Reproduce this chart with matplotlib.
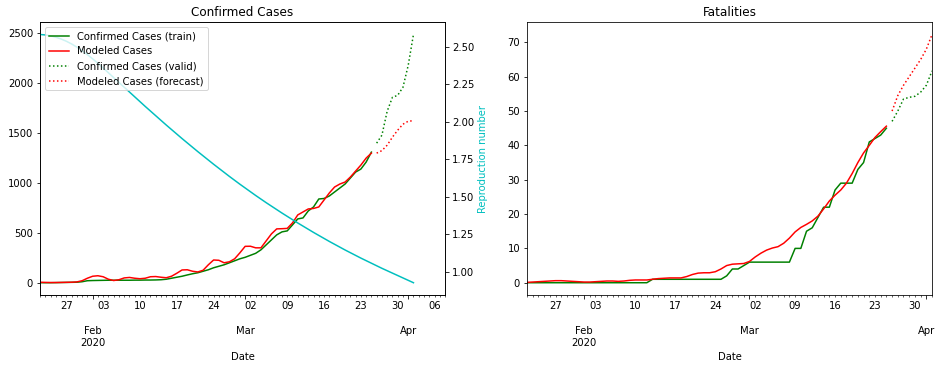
import numpy as np
import pandas as pd
import matplotlib
matplotlib.use("Agg")
import matplotlib.pyplot as plt
import matplotlib.dates as mdates
from matplotlib.ticker import FuncFormatter

# dates: train 22 Jan - 25 Mar, forecast 26 Mar - 2 Apr
train_dates = pd.date_range("2020-01-22", "2020-03-25")
fc_dates = pd.date_range("2020-03-26", "2020-04-02")
all_dates = pd.date_range("2020-01-22", "2020-04-02")

confirmed_train = [0, 0, 0, 1, 2, 3, 4, 5, 10, 20, 22, 23, 24, 25, 25, 25,
                   25, 25, 26, 26, 27, 27, 28, 30, 35, 45, 55, 65, 78, 90, 100, 115,
                   130, 150, 165, 180, 200, 220, 240, 255, 275, 295, 330, 380, 430, 480,
                   510, 520, 580, 640, 650, 720, 760, 840, 845, 870, 910, 950, 990, 1050,
                   1110, 1140, 1210, 1310]
modeled_cases = [5, 3, 2, 2, 3, 4, 5, 8, 20, 45, 65, 70, 60, 35, 22, 30,
                 48, 53, 45, 40, 45, 60, 62, 55, 50, 65, 95, 128, 130, 115, 108, 125,
                 180, 228, 225, 200, 210, 240, 300, 365, 366, 350, 350, 420, 490, 540,
                 542, 545, 600, 680, 710, 740, 745, 760, 830, 900, 960, 990, 1010, 1060,
                 1120, 1180, 1250, 1300]
confirmed_valid = [1400, 1480, 1720, 1860, 1880, 1960, 2180, 2490]
modeled_cases_fc = [1300, 1325, 1380, 1460, 1530, 1590, 1620, 1625]

repro_number = [2.580, 2.577, 2.571, 2.562, 2.550, 2.535, 2.517, 2.496, 2.472, 2.446,
                2.418, 2.388, 2.357, 2.325, 2.293, 2.261, 2.229, 2.197, 2.165, 2.133,
                2.101, 2.070, 2.039, 2.008, 1.977, 1.947, 1.917, 1.887, 1.858, 1.829,
                1.800, 1.772, 1.744, 1.716, 1.689, 1.662, 1.635, 1.609, 1.583, 1.558,
                1.533, 1.508, 1.484, 1.460, 1.437, 1.414, 1.391, 1.369, 1.347, 1.325,
                1.304, 1.283, 1.262, 1.242, 1.222, 1.202, 1.183, 1.164, 1.145, 1.127,
                1.109, 1.091, 1.074, 1.057, 1.040, 1.023, 1.007, 0.991, 0.975, 0.959,
                0.943, 0.927]

fatal_train = [0] * 22 + [1] * 13 + [2, 4, 4, 5, 6, 6, 6, 6, 6, 6, 6, 6,
                                     10, 10, 15, 16, 19, 22, 22, 27, 29, 29, 29, 33, 35,
                                     41, 42, 43, 45]
modeled_fatal = [0.1, 0.2, 0.3, 0.4, 0.5, 0.6, 0.6, 0.5, 0.4, 0.3, 0.2, 0.2, 0.3, 0.4,
                 0.5, 0.5, 0.4, 0.5, 0.7, 0.8, 0.8, 0.8, 1.0, 1.2, 1.3, 1.4, 1.4, 1.4,
                 1.8, 2.4, 2.8, 2.9, 2.9, 3.2, 4.0, 5.0, 5.4, 5.5, 5.6, 6.2, 7.5, 8.6,
                 9.5, 10.1, 10.5, 11.5, 13.0, 14.8, 16.1, 17.0, 18.0, 19.4, 21.5, 23.8,
                 25.5, 27.0, 29.0, 31.8, 35.0, 37.8, 40.0, 42.3, 44.0, 45.6]
fatal_valid = [47, 50, 53.5, 54, 54.3, 55.5, 57.5, 61.7]
modeled_fatal_fc = [50, 54.5, 57.5, 60, 62.5, 65, 68, 72.3]


def month_label(x, pos):
    d = mdates.num2date(x)
    if d.month == 2:
        return d.strftime("%b\n%Y")
    return d.strftime("%b")


def day_label(x, pos):
    d = mdates.num2date(x)
    if d.weekday() == 0:
        return d.strftime("%d")
    return ""


def format_dates(ax, end):
    ax.set_xlim(pd.Timestamp("2020-01-22"), pd.Timestamp(end))
    ax.xaxis.set_major_locator(mdates.MonthLocator())
    ax.xaxis.set_major_formatter(FuncFormatter(month_label))
    ax.xaxis.set_minor_locator(mdates.DayLocator())
    ax.xaxis.set_minor_formatter(FuncFormatter(day_label))
    # month names sit two lines below the day numbers
    ax.tick_params(axis="x", which="major", pad=27.5)
    ax.set_xlabel("Date")


fig, (ax1, ax2) = plt.subplots(1, 2, figsize=(942 / 72, 368 / 72), dpi=72)
fig.subplots_adjust(left=0.0425, right=0.9894, top=0.940, bottom=0.198, wspace=0.2025)

l1, = ax1.plot(train_dates, confirmed_train, "g", label="Confirmed Cases (train)")
l2, = ax1.plot(train_dates, modeled_cases, "r", label="Modeled Cases")
l3, = ax1.plot(fc_dates, confirmed_valid, "g:", label="Confirmed Cases (valid)")
l4, = ax1.plot(fc_dates, modeled_cases_fc, "r:", label="Modeled Cases (forecast)")
ax1.set_title("Confirmed Cases")

tw = ax1.twinx()
tw.plot(all_dates, repro_number, "c")
tw.set_ylabel("Reproduction number", color="c")
tw.legend(handles=[l1, l2, l3, l4], loc="upper left")
format_dates(ax1, "2020-04-08")

ax2.plot(train_dates, fatal_train, "g")
ax2.plot(train_dates, modeled_fatal, "r")
ax2.plot(fc_dates, fatal_valid, "g:")
ax2.plot(fc_dates, modeled_fatal_fc, "r:")
ax2.set_title("Fatalities")
format_dates(ax2, "2020-04-02")

fig.savefig("out.png", dpi=72)
